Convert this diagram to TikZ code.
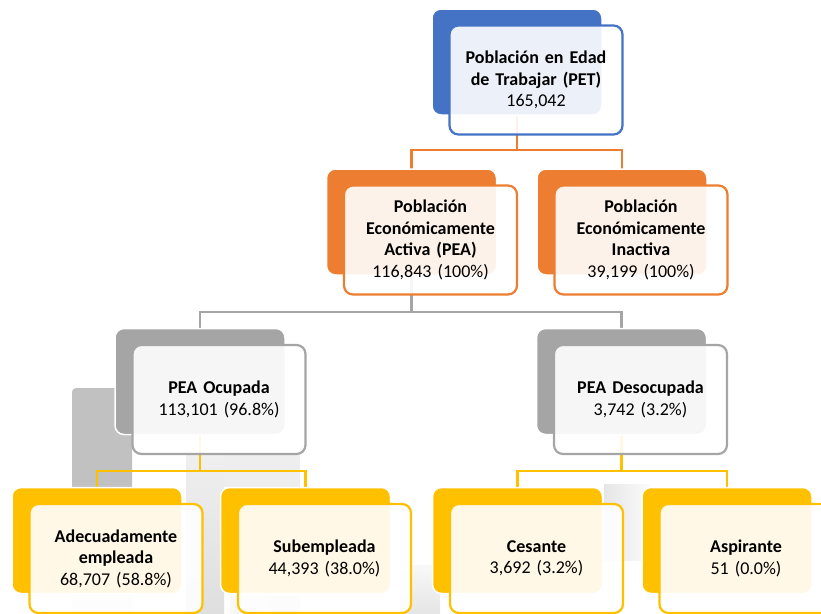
\documentclass[tikz,border=0pt]{standalone}
\usepackage{fontspec}
\setmainfont{Carlito}
\usepackage{xcolor}
\usepackage{tikz}
\usetikzlibrary{calc}
\usetikzlibrary{positioning}
\tikzset{>=latex}

\definecolor{petblue}{HTML}{4472C4}
\definecolor{peaorange}{HTML}{ED7D31}
\definecolor{ocugray}{HTML}{A5A5A5}
\definecolor{subyellow}{HTML}{FFC000}

\pgfdeclarelayer{ghost}
\pgfdeclarelayer{background}
\pgfsetlayers{ghost,background,main}

\tikzset{
	back/.style={draw=white, line width=1.5pt, rounded corners=9pt,
		minimum width=170pt, minimum height=106pt, inner sep=0pt, outer sep=0pt},
	front/.style={rounded corners=9pt, line width=2.2pt, fill=white,
		minimum width=173pt, minimum height=109pt, inner sep=0pt, outer sep=0pt,
		align=center, text width=165pt, font=\fontsize{18}{21.5}\selectfont,
		fill opacity=0.9, text opacity=1, draw opacity=1},
	link/.style={line width=2.6pt}
}

\begin{document}
\begin{tikzpicture}[x=1pt, y=-1pt]
	\useasboundingbox (0,0) rectangle (821,613);

	%% Back boxes
	\node[back, fill=petblue] (petb) at (517,62) {};
	\node[back, fill=peaorange] (peab) at (411.5,222) {};
	\node[back, fill=peaorange] (peib) at (622,222) {};
	\node[back, fill=ocugray] (ocub) at (200,381.5) {};
	\node[back, fill=ocugray] (desb) at (621.5,381.5) {};
	\node[back, fill=subyellow] (adeb) at (97,540.5) {};
	\node[back, fill=subyellow] (subb) at (305.5,540.5) {};
	\node[back, fill=subyellow] (cesb) at (517.5,540.5) {};
	\node[back, fill=subyellow] (aspb) at (727,540.5) {};

	%% Front boxes
	\node[front, draw=petblue] (pet) at ([shift={(19,18)}]petb.center)
		{\textbf{Población en Edad}\\\textbf{de Trabajar (PET)}\\165,042};
	%
	\node[front, draw=peaorange] (pea) at ([shift={(19,18)}]peab.center)
		{\textbf{Población}\\\textbf{Económicamente}\\\textbf{Activa (PEA)}\\116,843 (100\%)};
	\node[front, draw=peaorange] (pei) at ([shift={(19,18)}]peib.center)
		{\textbf{Población}\\\textbf{Económicamente}\\\textbf{Inactiva}\\39,199 (100\%)};
	%
	\node[front, draw=ocugray] (ocu) at ([shift={(19,18)}]ocub.center)
		{\textbf{PEA Ocupada}\\113,101 (96.8\%)};
	\node[front, draw=ocugray] (des) at ([shift={(19,18)}]desb.center)
		{\textbf{PEA Desocupada}\\3,742 (3.2\%)};
	%
	\node[front, draw=subyellow] (ade) at ([shift={(19,18)}]adeb.center)
		{\textbf{Adecuadamente}\\\textbf{empleada}\\68,707 (58.8\%)};
	\node[front, draw=subyellow] (sub) at ([shift={(19,18)}]subb.center)
		{\textbf{Subempleada}\\44,393 (38.0\%)};
	\node[front, draw=subyellow] (ces) at ([shift={(19,18)}]cesb.center)
		{\textbf{Cesante}\\3,692 (3.2\%)};
	\node[front, draw=subyellow] (asp) at ([shift={(19,18)}]aspb.center)
		{\textbf{Aspirante}\\51 (0.0\%)};

	%% Connectors
	\begin{pgfonlayer}{background}
		\draw[link, draw=peaorange] (petb.south) -- ++(0,35) coordinate (j1);
		\draw[link, draw=peaorange] (peab.north) |- (j1) -| (peib.north);
		%
		\draw[link, draw=ocugray] (peab.south) -- ++(0,37) coordinate (j2);
		\draw[link, draw=ocugray] (ocub.north) |- (j2) -| (desb.north);
		%
		\draw[link, draw=subyellow] (ocub.south) -- ++(0,36.5) coordinate (j3);
		\draw[link, draw=subyellow] (adeb.north) |- (j3) -| (subb.north);
		\draw[link, draw=subyellow] (desb.south) -- ++(0,36.5) coordinate (j4);
		\draw[link, draw=subyellow] (cesb.north) |- (j4) -| (aspb.north);
	\end{pgfonlayer}

	%% Faded photo behind
	\begin{pgfonlayer}{ghost}
		\fill[gray!65, opacity=.75, rounded corners=4pt] (72,388) rectangle (132,495);
		\shade[top color=gray!50, bottom color=gray!20, opacity=.5] (72,495) rectangle (132,613);
		\shade[top color=gray!25, bottom color=gray!50, opacity=.5] (186,455) rectangle (224,613);
		\fill[gray!30, opacity=.45] (224,455) rectangle (300,487);
		\shade[left color=gray!10, right color=gray!45, opacity=.5] (230,596) rectangle (300,613);
		\shade[top color=gray!10, bottom color=gray!40, opacity=.5] (400,565) rectangle (440,613);
		\shade[left color=gray!40, right color=gray!5, opacity=.5] (604,484) rectangle (650,560);
	\end{pgfonlayer}

\end{tikzpicture}
\end{document}
